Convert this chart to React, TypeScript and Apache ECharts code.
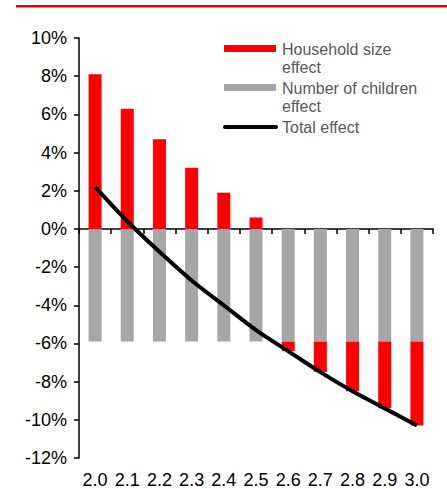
import React, { useEffect, useRef } from "react";
import * as echarts from "echarts";

const categories = ["2.0", "2.1", "2.2", "2.3", "2.4", "2.5", "2.6", "2.7", "2.8", "2.9", "3.0"];
const householdSizeEffect = [8.1, 6.3, 4.7, 3.2, 1.9, 0.6, -0.5, -1.6, -2.6, -3.5, -4.4];
const childrenEffect = [-5.9, -5.9, -5.9, -5.9, -5.9, -5.9, -5.9, -5.9, -5.9, -5.9, -5.9];
const totalEffect = [2.2, 0.4, -1.2, -2.7, -4.0, -5.3, -6.4, -7.5, -8.5, -9.4, -10.3];
const yTicks = { min: -12, max: 10, interval: 2 };

const FONT = "'Liberation Sans', Arial, sans-serif";

export default function App() {
  const ref = useRef<HTMLDivElement>(null);
  useEffect(() => {
    if (!ref.current) return;
    const chart = echarts.init(ref.current, undefined, { renderer: "svg" });
    const legendText = { fontFamily: FONT, fontSize: 16, fill: "#595959" };
    chart.setOption({
      animation: false,
      grid: { left: 79, right: 14, top: 38, bottom: 31, containLabel: false },
      xAxis: [
        {
          type: "category",
          data: categories,
          axisLine: { onZero: true, lineStyle: { color: "#000", width: 1.5 } },
          axisTick: { show: true, length: 5, lineStyle: { color: "#000", width: 1.5 } },
          axisLabel: { show: false },
        },
        {
          type: "category",
          data: categories,
          position: "bottom",
          axisLine: { show: false, onZero: false },
          axisTick: { show: false },
          axisLabel: {
            show: true,
            interval: 0,
            hideOverlap: false,
            margin: 13,
            color: "#000",
            fontFamily: FONT,
            fontSize: 18,
          },
        },
      ],
      yAxis: {
        type: "value",
        min: yTicks.min,
        max: yTicks.max,
        interval: yTicks.interval,
        splitLine: { show: false },
        axisLine: { show: true, lineStyle: { color: "#000", width: 1.5 } },
        axisTick: { show: true, length: 5, lineStyle: { color: "#000", width: 1.5 } },
        axisLabel: {
          margin: 12,
          color: "#000",
          fontFamily: FONT,
          fontSize: 18,
          formatter: (v: number) => `${v}%`,
        },
      },
      series: [
        {
          name: "Number of children effect",
          type: "bar",
          stack: "a",
          data: childrenEffect,
          barWidth: 13,
          itemStyle: { color: "#A6A6A6" },
        },
        {
          name: "Household size effect",
          type: "bar",
          stack: "a",
          data: householdSizeEffect,
          barWidth: 13,
          itemStyle: { color: "#FF0000" },
        },
        {
          name: "Total effect",
          type: "line",
          data: totalEffect,
          smooth: 0.3,
          showSymbol: false,
          symbol: "none",
          lineStyle: { color: "#000", width: 4 },
          z: 5,
        },
      ],
      graphic: [
        { type: "rect", shape: { x: 16, y: 5, width: 431, height: 2.5 }, style: { fill: "#E8000B" } },
        { type: "rect", shape: { x: 224, y: 45, width: 52, height: 7 }, style: { fill: "#FF0000" } },
        { type: "text", x: 282, y: 40, style: { ...legendText, text: "Household size\neffect", lineHeight: 18 } },
        { type: "rect", shape: { x: 224, y: 84, width: 52, height: 7 }, style: { fill: "#A6A6A6" } },
        { type: "text", x: 282, y: 79, style: { ...legendText, text: "Number of children\neffect", lineHeight: 18 } },
        {
          type: "line",
          shape: { x1: 225, y1: 127, x2: 276, y2: 127 },
          style: { stroke: "#000", lineWidth: 4, lineCap: "round" },
        },
        { type: "text", x: 282, y: 118, style: { ...legendText, text: "Total effect", lineHeight: 18 } },
      ],
    });
    return () => chart.dispose();
  }, []);
  return (
    <div
      ref={ref}
      style={{ position: "fixed", left: 0, top: 0, width: 447, height: 489, background: "#fff" }}
    />
  );
}
